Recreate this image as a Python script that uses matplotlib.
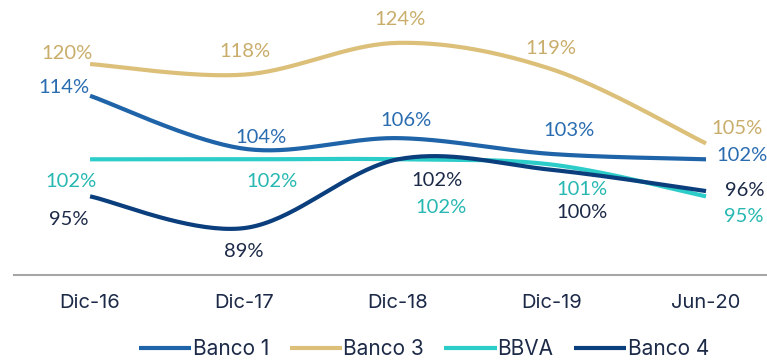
import matplotlib
matplotlib.use("Agg")
import matplotlib.pyplot as plt
import numpy as np

# Datos
PERIODOS = ["Dic-16", "Dic-17", "Dic-18", "Dic-19", "Jun-20"]
BANCO_1 = [114, 104, 106, 103, 102]
BANCO_3 = [120, 118, 124, 119, 105]
BBVA = [102, 102, 102, 101, 95]
BANCO_4 = [95, 89, 102, 100, 96]

SERIES = [
    ("Banco 1", BANCO_1, "#1f64a8", "#2a6cb0"),
    ("Banco 3", BANCO_3, "#dcc07a", "#c9ad6a"),
    ("BBVA", BBVA, "#2ccdc9", "#27b8b1"),
    ("Banco 4", BANCO_4, "#0b3e7c", "#1c2a48"),
]

# desplazamiento de cada etiqueta respecto a su punto (pixeles)
OFFSETS = {
    "Banco 1": [(-26, 8), (17, 11), (8, 18), (17, 24), (36, 4)],
    "Banco 3": [(-23, 11), (1, 23), (2, 23), (-1, 21), (31, 15)],
    "BBVA": [(-19, -22), (28, -22), (43, -48), (30, -25), (38, -20)],
    "Banco 4": [(-21, -23), (0, -23), (39, -21), (30, -43), (39, 1)],
}


def smooth(x, y, n=40):
    """Curva suavizada tipo Bezier (Catmull-Rom) entre los puntos."""
    x = np.asarray(x, float)
    y = np.asarray(y, float)
    px = np.concatenate([[x[0]], x, [x[-1]]])
    py = np.concatenate([[y[0]], y, [y[-1]]])
    xs, ys = [], []
    t = np.linspace(0, 1, n)
    for i in range(1, len(px) - 2):
        p0, p1, p2, p3 = (np.array([px[j], py[j]]) for j in range(i - 1, i + 3))
        c1 = p1 + (p2 - p0) / 6
        c2 = p2 - (p3 - p1) / 6
        seg = (((1 - t) ** 3)[:, None] * p1 + (3 * (1 - t) ** 2 * t)[:, None] * c1
               + (3 * (1 - t) * t ** 2)[:, None] * c2 + (t ** 3)[:, None] * p2)
        xs.append(seg[:, 0])
        ys.append(seg[:, 1])
    return np.concatenate(xs), np.concatenate(ys)


fig = plt.figure(figsize=(7.67, 3.6), dpi=100)
ax = fig.add_axes([14 / 767, 85 / 360, 1 - 14 / 767, 275 / 360])
x = np.arange(len(PERIODOS))

for nombre, valores, color, color_txt in SERIES:
    sx, sy = smooth(x, valores)
    ax.plot(sx, sy, color=color, lw=3, solid_capstyle="butt", label=nombre)
    for xi, v, (dx, dy) in zip(x, valores, OFFSETS[nombre]):
        ax.annotate(f"{v}%", xy=(xi, v), xytext=(dx, dy), textcoords="offset pixels",
                    ha="center", va="center", fontsize=14.5, color=color_txt,
                    family="Lato")

ax.set_xlim(-0.494, 4.396)
ax.set_ylim(80.14, 132.1)
ax.set_xticks(x)
ax.set_xticklabels(PERIODOS, fontsize=14.5, color="#1c2a48", family="Inter")
ax.tick_params(axis="x", length=0, pad=14)
ax.set_yticks([])
for lado in ["top", "right", "left"]:
    ax.spines[lado].set_visible(False)
ax.spines["bottom"].set_color("#a6a6a6")
ax.spines["bottom"].set_linewidth(1.5)

fig.legend(loc="center", bbox_to_anchor=(0.553, 0.03), ncol=4, frameon=False,
           handlelength=2.5, handletextpad=0.05, columnspacing=1.0,
           prop={"family": "Inter", "size": 15}, labelcolor="#1c2a48")

fig.savefig("out.png", dpi=100)
